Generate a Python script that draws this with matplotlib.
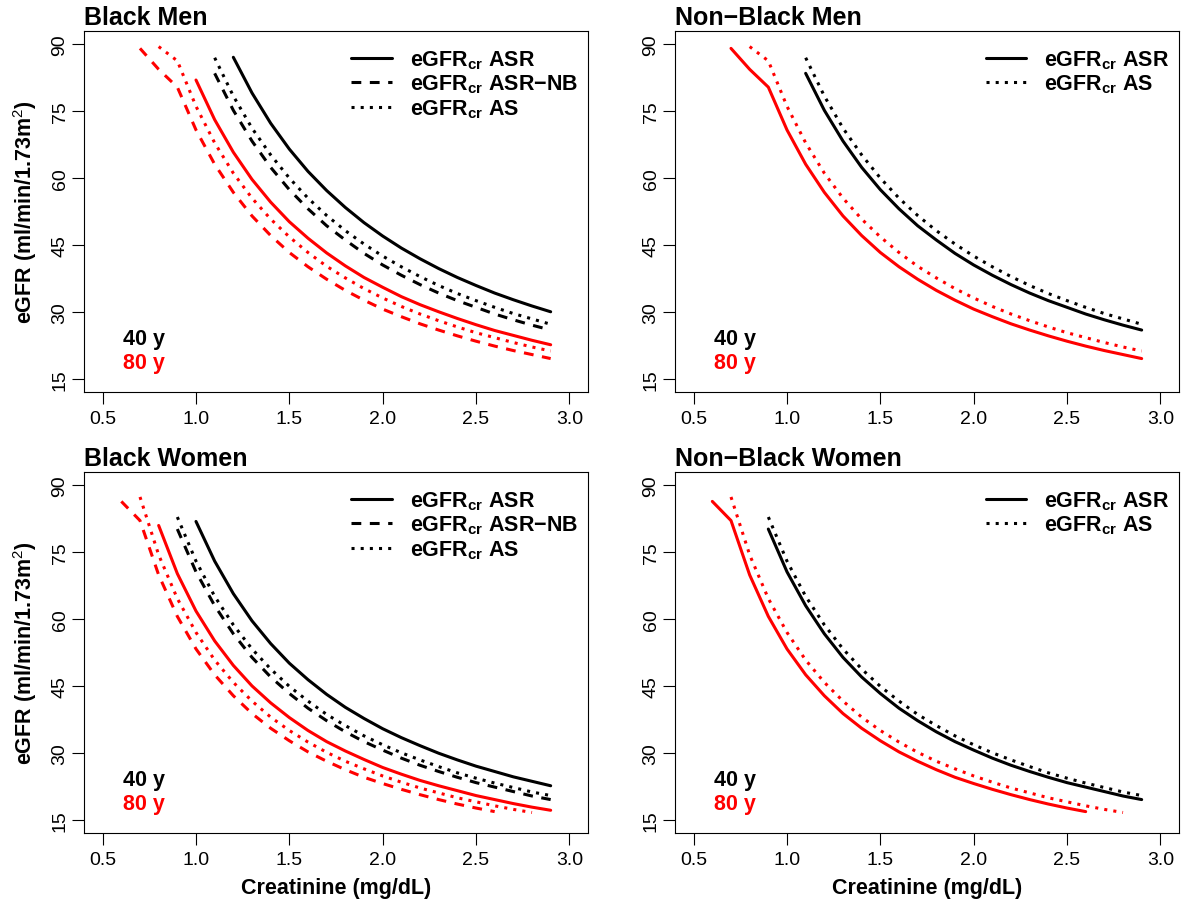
import numpy as np
import matplotlib
matplotlib.use("Agg")
import matplotlib.pyplot as plt

N = None

# creatinine grid (mg/dL)
creat = [0.6, 0.7, 0.8, 0.9, 1.0, 1.1, 1.2, 1.3, 1.4, 1.5, 1.6, 1.7,
         1.8, 1.9, 2.0, 2.1, 2.2, 2.3, 2.4, 2.5, 2.6, 2.7, 2.8, 2.9]

# eGFR on the grid, None where a curve is not drawn
# men
bm_asr_40 = [N] * 6 + [87.1, 79.1, 72.3, 66.5, 61.5, 57.2, 53.4, 50.0, 47.0, 44.3,
                       41.9, 39.7, 37.7, 35.9, 34.2, 32.7, 31.3, 30.0]
bm_asrnb_40 = [N] * 5 + [83.5, 75.2, 68.3, 62.4, 57.4, 53.1, 49.3, 46.1, 43.1, 40.5,
                         38.2, 36.1, 34.2, 32.5, 31.0, 29.5, 28.2, 27.0, 25.9]
bm_as_40 = [N] * 5 + [87.0, 78.4, 71.2, 65.2, 60.0, 55.5, 51.6, 48.2, 45.2, 42.5,
                      40.1, 37.9, 35.9, 34.1, 32.5, 31.0, 29.6, 28.4, 27.2]
bm_asr_80 = [N] * 4 + [82.0, 73.1, 65.8, 59.7, 54.6, 50.2, 46.5, 43.2, 40.3, 37.7,
                       35.5, 33.4, 31.6, 30.0, 28.5, 27.1, 25.8, 24.7, 23.6, 22.6]
bm_asrnb_80 = [N] + [89.1, 84.4, 80.4, 70.8, 63.1, 56.8, 51.5, 47.1, 43.3, 40.1, 37.3,
                     34.8, 32.6, 30.6, 28.9, 27.3, 25.9, 24.6, 23.4, 22.3, 21.3, 20.4, 19.5]
bm_as_80 = [N] * 2 + [89.5, 86.3, 76.1, 67.9, 61.1, 55.5, 50.8, 46.8, 43.3, 40.2, 37.6,
                      35.2, 33.1, 31.2, 29.5, 28.0, 26.6, 25.3, 24.2, 23.1, 22.1, 21.2]

# women
bw_asr_40 = [N] * 4 + [81.9, 73.0, 65.7, 59.6, 54.5, 50.1, 46.4, 43.1, 40.2, 37.7,
                       35.4, 33.4, 31.6, 29.9, 28.4, 27.0, 25.8, 24.6, 23.6, 22.6]
bw_asrnb_40 = [N] * 3 + [80.2, 70.6, 63.0, 56.7, 51.4, 47.0, 43.3, 40.0, 37.2, 34.7, 32.5,
                         30.6, 28.8, 27.2, 25.8, 24.5, 23.3, 22.3, 21.3, 20.3, 19.5]
bw_as_40 = [N] * 3 + [82.9, 73.0, 65.1, 58.7, 53.3, 48.8, 44.9, 41.6, 38.6, 36.1, 33.8,
                      31.8, 30.0, 28.4, 26.9, 25.5, 24.3, 23.2, 22.2, 21.2, 20.4]
bw_asr_80 = [N] * 2 + [81.0, 70.2, 61.8, 55.1, 49.6, 45.0, 41.2, 37.9, 35.0, 32.5, 30.4,
                       28.5, 26.7, 25.2, 23.8, 22.6, 21.5, 20.4, 19.5, 18.6, 17.8, 17.1]
bw_asrnb_80 = [86.4, 82.1, 69.9, 60.6, 53.3, 47.5, 42.8, 38.8, 35.5, 32.7, 30.2,
               28.1, 26.2, 24.5, 23.1, 21.8, 20.6, 19.5, 18.5, 17.6, 16.8] + [N] * 3
bw_as_80 = [N] + [87.4, 74.4, 64.6, 57.0, 50.8, 45.8, 41.6, 38.0, 35.0, 32.4, 30.1,
                  28.1, 26.4, 24.8, 23.4, 22.1, 21.0, 19.9, 19.0, 18.1, 17.3, 16.6] + [N]

# for non-Black people the ASR equation is the ASR-NB one
panels = [
    ("Black Men", [(bm_asr_40, "k", "solid"), (bm_asrnb_40, "k", "dashed"), (bm_as_40, "k", "dotted"),
                   (bm_asr_80, "r", "solid"), (bm_asrnb_80, "r", "dashed"), (bm_as_80, "r", "dotted")]),
    ("Non\u2212Black Men", [(bm_asrnb_40, "k", "solid"), (bm_as_40, "k", "dotted"),
                            (bm_asrnb_80, "r", "solid"), (bm_as_80, "r", "dotted")]),
    ("Black Women", [(bw_asr_40, "k", "solid"), (bw_asrnb_40, "k", "dashed"), (bw_as_40, "k", "dotted"),
                     (bw_asr_80, "r", "solid"), (bw_asrnb_80, "r", "dashed"), (bw_as_80, "r", "dotted")]),
    ("Non\u2212Black Women", [(bw_asrnb_40, "k", "solid"), (bw_as_40, "k", "dotted"),
                              (bw_asrnb_80, "r", "solid"), (bw_as_80, "r", "dotted")]),
]
legend_labels = {"solid": "eGFR$_{\\mathbf{cr}}$ ASR",
                 "dashed": "eGFR$_{\\mathbf{cr}}$ ASR\u2212NB",
                 "dotted": "eGFR$_{\\mathbf{cr}}$ AS"}
ages = ["40 y", "80 y"]
xticks = [0.5, 1.0, 1.5, 2.0, 2.5, 3.0]
yticks = [15, 30, 45, 60, 75, 90]

plt.rcParams["font.family"] = "Liberation Sans"
plt.rcParams["mathtext.fontset"] = "custom"
plt.rcParams["mathtext.rm"] = "Liberation Sans"
plt.rcParams["mathtext.bf"] = "Liberation Sans:bold"
plt.rcParams["mathtext.it"] = "Liberation Sans:italic"

red = "#FF0000"
lw = 2.2
dash = {"solid": "-", "dashed": (0, (3.2, 2.8)), "dotted": (0, (1, 2))}
leg_fs = 15.5
lab_fs = 15.5

W, H = 1188, 903
boxes = [(84, 32), (675, 32), (84, 473), (675, 473)]
bw, bh = 504, 361

fig = plt.figure(figsize=(W / 100, H / 100), dpi=100)
x = np.array(creat)

for i, (title, curves) in enumerate(panels):
    left, top = boxes[i]
    ax = fig.add_axes([left / W, 1 - (top + bh) / H, bw / W, bh / H])
    handles = []
    for vals, col, style in curves:
        y = np.array(vals, dtype=float)
        line, = ax.plot(x, y, color="black" if col == "k" else red, lw=lw,
                        linestyle=dash[style], dash_capstyle="butt", solid_capstyle="round")
        if col == "k":
            handles.append((line, legend_labels[style]))

    ax.set_xlim(0.4, 3.1)
    ax.set_ylim(12, 93)
    ax.set_xticks(xticks)
    ax.set_xticklabels([f"{t:.1f}" for t in xticks])
    ax.set_yticks(yticks)
    ax.set_yticklabels([str(t) for t in yticks], rotation=90, va="center")
    ax.tick_params(length=8.6, width=0.8, colors="black", labelsize=14)
    ax.tick_params(axis="x", pad=4.5)
    ax.tick_params(axis="y", pad=2.5)
    for s in ax.spines.values():
        s.set_linewidth(0.8)

    ax.set_title(title, loc="left", fontsize=18, fontweight="bold", pad=5)

    ax.legend([h for h, _ in handles], [l for _, l in handles], loc="upper right",
              bbox_to_anchor=(1, 0.9795), frameon=False,
              prop={"weight": "bold", "size": leg_fs},
              handlelength=1.86, handletextpad=0.84, borderpad=0.47,
              borderaxespad=0, labelspacing=0.08)

    ax.text(0.0774, 0.147, ages[0], transform=ax.transAxes, color="black",
            fontsize=leg_fs, fontweight="bold", va="center", ha="left")
    ax.text(0.0774, 0.083, ages[1], transform=ax.transAxes, color=red,
            fontsize=leg_fs, fontweight="bold", va="center", ha="left")

    if i % 2 == 0:
        ax.set_ylabel("eGFR (ml/min/1.73m$^{2}$)", fontsize=lab_fs, fontweight="bold")
        ax.yaxis.set_label_coords(-0.09, 0.5)
    if i >= 2:
        ax.set_xlabel("Creatinine (mg/dL)", fontsize=lab_fs, fontweight="bold")
        ax.xaxis.set_label_coords(0.5, -0.122)

fig.savefig("out.png", dpi=100)
